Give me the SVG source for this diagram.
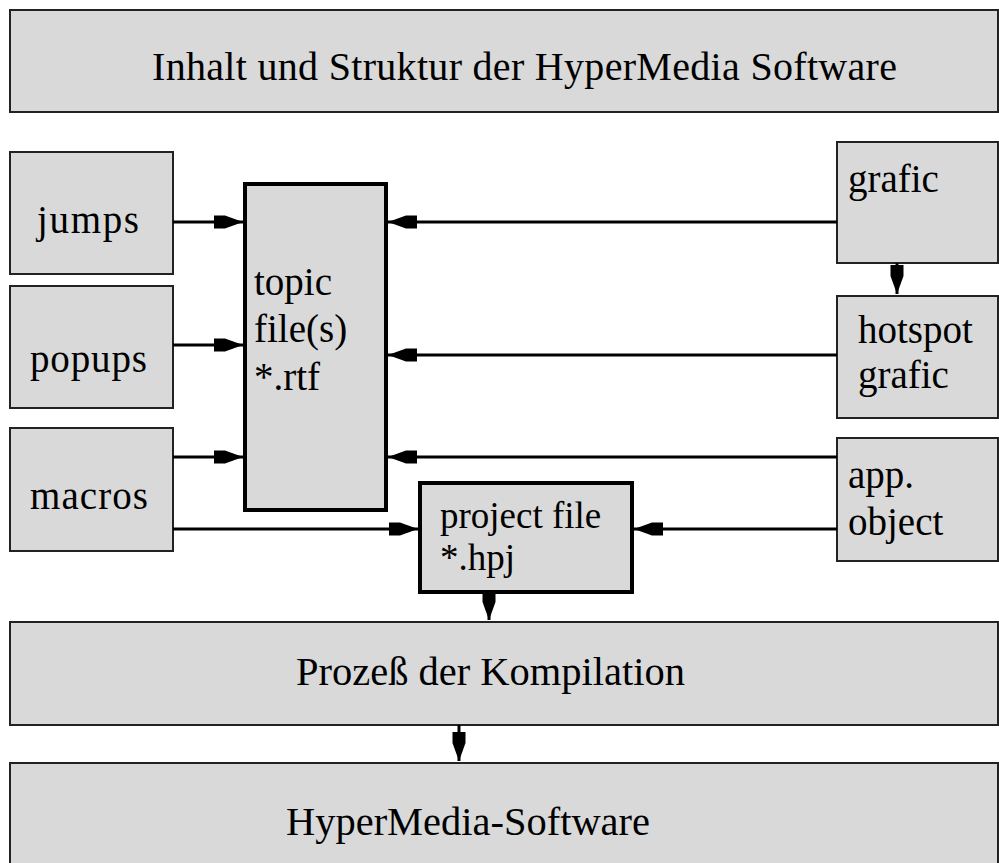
<svg xmlns="http://www.w3.org/2000/svg" width="999" height="863" viewBox="0 0 999 863">
  <style>
    .box { fill: #d9d9d9; stroke: #222; stroke-width: 2; }
    .thick { fill: #d9d9d9; stroke: #000; stroke-width: 4; }
    .lbl { font-family: "Liberation Serif", "Times New Roman", serif; font-size: 39px; fill: #000; }
    .head { font-size: 40px; }
    .comp { font-size: 41px; }
    .proj { font-size: 37px; }
    .edge { stroke: #000; stroke-width: 3; fill: none; marker-end: url(#head); }
  </style>
  <defs>
    <marker id="head" markerUnits="userSpaceOnUse" viewBox="-30 -7 31 14" refX="0" refY="0" markerWidth="31" markerHeight="14" orient="auto">
      <path d="M0,0 L-18,-6.5 L-29,-6.5 L-29,6.5 L-18,6.5 Z" fill="#000"/>
    </marker>
  </defs>
  <rect width="999" height="863" fill="#fff"/>

  <g id="title">
    <rect class="box" x="10" y="10" width="988" height="102"/>
    <text class="lbl head" x="152" y="80" textLength="745" lengthAdjust="spacing">Inhalt und Struktur der HyperMedia Software</text>
  </g>

  <g id="jumps">
    <rect class="box" x="10" y="152" width="163" height="122"/>
    <text class="lbl" x="37" y="233" textLength="102" lengthAdjust="spacing">jumps</text>
  </g>
  <g id="popups">
    <rect class="box" x="10" y="286" width="163" height="122"/>
    <text class="lbl" x="30" y="372" textLength="117" lengthAdjust="spacing">popups</text>
  </g>
  <g id="macros">
    <rect class="box" x="10" y="428" width="163" height="123"/>
    <text class="lbl" x="30" y="509" textLength="118" lengthAdjust="spacing">macros</text>
  </g>

  <g id="topic">
    <rect class="thick" x="245" y="184" width="141" height="326"/>
    <text class="lbl" x="254" y="295">topic</text>
    <text class="lbl" x="254" y="342">file(s)</text>
    <text class="lbl" x="254" y="390">*.rtf</text>
  </g>

  <g id="project">
    <rect class="thick" x="420" y="483" width="212" height="109"/>
    <text class="lbl proj" x="440" y="528">project file</text>
    <text class="lbl proj" x="440" y="570">*.hpj</text>
  </g>

  <g id="grafic">
    <rect class="box" x="837" y="142" width="161" height="121"/>
    <text class="lbl" x="848" y="192">grafic</text>
  </g>
  <g id="hotspot">
    <rect class="box" x="837" y="296" width="161" height="122"/>
    <text class="lbl" x="858" y="343">hotspot</text>
    <text class="lbl" x="858" y="388">grafic</text>
  </g>
  <g id="appobject">
    <rect class="box" x="837" y="438" width="161" height="123"/>
    <text class="lbl" x="848" y="488">app.</text>
    <text class="lbl" x="848" y="535">object</text>
  </g>

  <g id="compile">
    <rect class="box" x="10" y="622" width="988" height="103"/>
    <text class="lbl comp" x="296" y="685" textLength="389" lengthAdjust="spacingAndGlyphs">Prozeß der Kompilation</text>
  </g>
  <g id="software">
    <rect class="box" x="10" y="763" width="988" height="112"/>
    <text class="lbl" x="286" y="835" textLength="364" lengthAdjust="spacingAndGlyphs">HyperMedia-Software</text>
  </g>

  <g id="connectors">
    <line class="edge" x1="173" y1="222" x2="243" y2="222"/>
    <line class="edge" x1="173" y1="345" x2="243" y2="345"/>
    <line class="edge" x1="173" y1="457" x2="243" y2="457"/>
    <line class="edge" x1="173" y1="529" x2="418" y2="529"/>
    <line class="edge" x1="837" y1="222" x2="388" y2="222"/>
    <line class="edge" x1="837" y1="355" x2="388" y2="355"/>
    <line class="edge" x1="837" y1="457" x2="388" y2="457"/>
    <line class="edge" x1="837" y1="529" x2="634" y2="529"/>
    <line class="edge" x1="897" y1="263" x2="897" y2="294"/>
    <line class="edge" x1="489" y1="594" x2="489" y2="620"/>
    <line class="edge" x1="459" y1="725" x2="459" y2="761"/>
  </g>
</svg>
